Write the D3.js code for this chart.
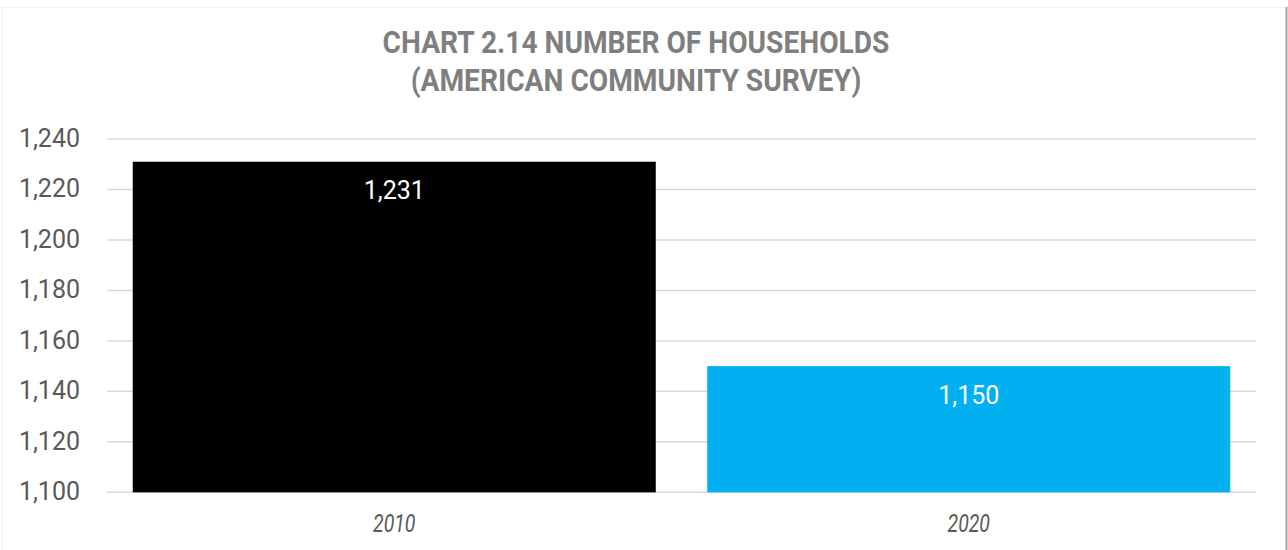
<!DOCTYPE html>
<html>
<head>
<meta charset="utf-8">
<script src="https://cdn.jsdelivr.net/npm/d3@7/dist/d3.min.js"></script>
<style>
  html, body { margin: 0; padding: 0; background: #ffffff; }
  svg { display: block; }
  text { font-family: Roboto, "Noto Sans", sans-serif; }
</style>
</head>
<body>
<svg id="chart" width="1288" height="550"></svg>
<script>
// Households counted by the American Community Survey
const years = ["2010", "2020"];
const households = [1231, 1150];
const barColors = ["#000000", "#00b0f0"];
const yTicks = [1100, 1120, 1140, 1160, 1180, 1200, 1220, 1240];
const titleLines = ["CHART 2.14 NUMBER OF HOUSEHOLDS", "(AMERICAN COMMUNITY SURVEY)"];

const W = 1288, H = 550;
const plot = { left: 107, right: 1256, top: 139, bottom: 492.3 };

const svg = d3.select("#chart");

// chart frame
svg.append("rect")
  .attr("x", 2.5).attr("y", 7.5)
  .attr("width", 1283).attr("height", 560)
  .attr("fill", "#ffffff")
  .attr("stroke", "#f0f0f0");
svg.append("line")
  .attr("x1", 1286.5).attr("x2", 1286.5)
  .attr("y1", 7).attr("y2", H)
  .attr("stroke", "#a6a6a6").attr("stroke-width", 2);

const x = d3.scaleBand()
  .domain(years)
  .range([plot.left, plot.right])
  .paddingInner(0.0896)
  .paddingOuter(0.0448);

const y = d3.scaleLinear()
  .domain([1100, 1240])
  .range([plot.bottom, plot.top]);

// horizontal gridlines
svg.append("g")
  .selectAll("line")
  .data(yTicks)
  .join("line")
  .attr("x1", plot.left).attr("x2", plot.right)
  .attr("y1", d => y(d)).attr("y2", d => y(d))
  .attr("stroke", "#d9d9d9")
  .attr("stroke-width", 1.5);

// y axis labels
const yAxis = d3.axisLeft(y)
  .tickValues(yTicks)
  .tickFormat(d3.format(","))
  .tickSize(0)
  .tickPadding(0);
const yg = svg.append("g")
  .attr("transform", `translate(80,0)`)
  .call(yAxis);
yg.select(".domain").remove();
yg.selectAll("text")
  .attr("dy", "0.3em")
  .attr("fill", "#595959")
  .style("font-size", "25px")
  .style("font-family", "Roboto, sans-serif");

// bars
svg.append("g")
  .selectAll("rect")
  .data(years)
  .join("rect")
  .attr("x", d => x(d))
  .attr("width", x.bandwidth())
  .attr("y", (d, i) => y(households[i]))
  .attr("height", (d, i) => y(1100) - y(households[i]))
  .attr("fill", (d, i) => barColors[i]);

// value labels inside bars
svg.append("g")
  .selectAll("text")
  .data(years)
  .join("text")
  .attr("x", d => x(d) + x.bandwidth() / 2)
  .attr("y", (d, i) => y(households[i]) + 37.5)
  .attr("text-anchor", "middle")
  .attr("fill", "#ffffff")
  .style("font-size", "25px")
  .text((d, i) => d3.format(",")(households[i]));

// x axis labels
const xAxis = d3.axisBottom(x).tickSize(0).tickPadding(0);
const xg = svg.append("g")
  .attr("transform", `translate(0,${plot.bottom})`)
  .call(xAxis);
xg.select(".domain").remove();
xg.selectAll(".tick text")
  .attr("y", 0)
  .attr("dy", 0)
  .attr("fill", "#595959")
  .style("font-size", "25px")
  .style("font-style", "italic")
  .style("font-family", "Roboto, sans-serif")
  .attr("transform", "translate(0,40) scale(0.78,1)");

// title
const condensed = 0.88;
svg.append("g")
  .selectAll("text")
  .data(titleLines)
  .join("text")
  .attr("transform", (d, i) => `translate(636,${53 + i * 38}) scale(${condensed},1)`)
  .attr("text-anchor", "middle")
  .attr("fill", "#7f7f7f")
  .style("font-size", "32px")
  .style("font-weight", "bold")
  .text(d => d);
</script>
</body>
</html>
